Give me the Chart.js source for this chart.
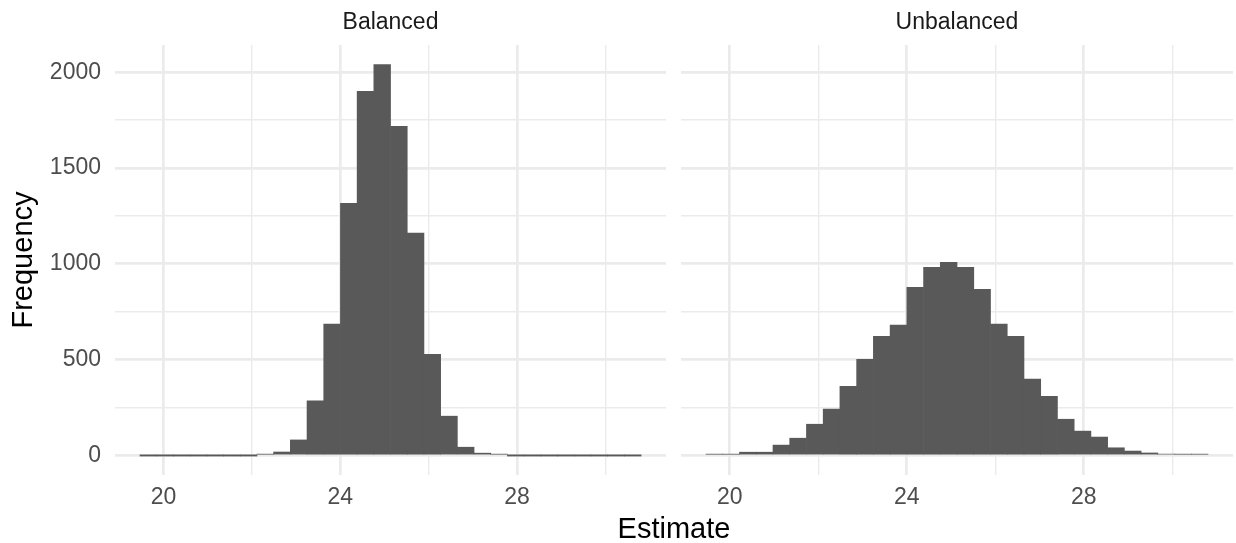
<!DOCTYPE html>
<html>
<head>
<meta charset="utf-8">
<script src="https://cdn.jsdelivr.net/npm/chart.js@4"></script>
<style>
    body { margin: 0; background: #ffffff; }
    #wrap { position: relative; width: 1236px; height: 543px; overflow: hidden; }
    canvas { position: absolute; top: 0; }
    #xTitle {
        position: absolute; left: 374px; top: 514px; width: 600px;
        text-align: center; font: 29px "Liberation Sans", Arial, sans-serif;
        line-height: 29px; color: #000000;
    }
</style>
</head>
<body>
<div id="wrap">
    <canvas id="balancedChart" width="673" height="543" style="left:0px"></canvas>
    <canvas id="unbalancedChart" width="563" height="543" style="left:673px"></canvas>
    <div id="xTitle">Estimate</div>
</div>
<script>
// Histogram bins (centres) shared by both panels
const binCenters = [19.655, 20.033, 20.411, 20.789, 21.167, 21.545, 21.923, 22.301, 22.679, 23.057,
                    23.435, 23.813, 24.191, 24.569, 24.947, 25.325, 25.703, 26.081, 26.459, 26.837,
                    27.215, 27.593, 27.971, 28.349, 28.727, 29.105, 29.483, 29.861, 30.239, 30.617];

// Frequencies
const balancedCounts = [0, 0, 0, 0, 0, 0, 0, 1, 18, 81,
                        285, 685, 1316, 1900, 2040, 1717, 1161, 528, 205, 43,
                        12, 2, 0, 0, 0, 0, 0, 0, 0, 0];
const unbalancedCounts = [2, 3, 17, 17, 54, 90, 163, 242, 361, 502,
                          622, 680, 878, 982, 1008, 982, 867, 685, 622, 398,
                          309, 189, 127, 96, 40, 23, 13, 7, 3, 2];

const panelNames = ['Balanced', 'Unbalanced'];
// major breaks carry labels, the rest are minor grid lines
const xGridValues = [20, 22, 24, 26, 28, 30];
const xTickLabels = [20, 24, 28];
const yGridValues = [0, 250, 500, 750, 1000, 1250, 1500, 1750, 2000];
const yTickLabels = [0, 500, 1000, 1500, 2000];

const FONT = '"Liberation Sans", Arial, sans-serif';
const GRID = '#EBEBEB';

function makePanel(canvasId, title, counts, showY, padding) {
    const ctx = document.getElementById(canvasId).getContext('2d');

    const config = {
        type: 'bar',
        data: {
            datasets: [{
                data: binCenters.map((x, i) => ({ x: x, y: counts[i] })),
                backgroundColor: '#595959',
                borderWidth: 0,
                barPercentage: 1,
                categoryPercentage: 1,
                minBarLength: 1.2
            }]
        },
        options: {
            responsive: false,
            animation: false,
            devicePixelRatio: 1,
            layout: { padding: padding },
            plugins: {
                legend: { display: false },
                tooltip: { enabled: false },
                title: {
                    display: true,
                    text: title,
                    fullSize: false,
                    color: '#1A1A1A',
                    font: { family: FONT, size: 23, weight: 'normal', lineHeight: 1.2 },
                    padding: { top: 9.2, bottom: 8.2 }
                }
            },
            scales: {
                x: {
                    type: 'linear',
                    min: 18.90,
                    max: 31.37,
                    offset: false,
                    grid: {
                        offset: false,
                        color: GRID,
                        drawTicks: false,
                        lineWidth: c => (c.tick && xTickLabels.includes(c.tick.value)) ? 2.7 : 1.4
                    },
                    border: { display: false },
                    afterBuildTicks: s => { s.ticks = xGridValues.map(v => ({ value: v })); },
                    ticks: {
                        autoSkip: false,
                        maxRotation: 0,
                        padding: 9.2,
                        color: '#4D4D4D',
                        font: { family: FONT, size: 23 },
                        callback: v => xTickLabels.includes(v) ? String(v) : ''
                    },
                    afterFit: s => { s.height = 68; }
                },
                y: {
                    min: -102,
                    max: 2142,
                    grid: {
                        color: GRID,
                        drawTicks: false,
                        lineWidth: c => (c.tick && yTickLabels.includes(c.tick.value)) ? 2.7 : 1.4
                    },
                    border: { display: false },
                    afterBuildTicks: s => { s.ticks = yGridValues.map(v => ({ value: v })); },
                    ticks: {
                        display: showY,
                        autoSkip: false,
                        padding: 14,
                        color: '#4D4D4D',
                        font: { family: FONT, size: 23 },
                        callback: v => yTickLabels.includes(v) ? String(v) : ''
                    },
                    title: {
                        display: showY,
                        text: 'Frequency',
                        color: '#000000',
                        font: { family: FONT, size: 29, lineHeight: 1.2 },
                        padding: { top: 6.6, bottom: 0 }
                    },
                    afterFit: s => { s.width = showY ? 115 : 0; }
                }
            }
        }
    };

    return new Chart(ctx, config);
}

makePanel('balancedChart', panelNames[0], balancedCounts, true, { left: 0, right: 7, top: 0, bottom: 0 });
makePanel('unbalancedChart', panelNames[1], unbalancedCounts, false, { left: 8, right: 3, top: 0, bottom: 0 });
</script>
</body>
</html>
